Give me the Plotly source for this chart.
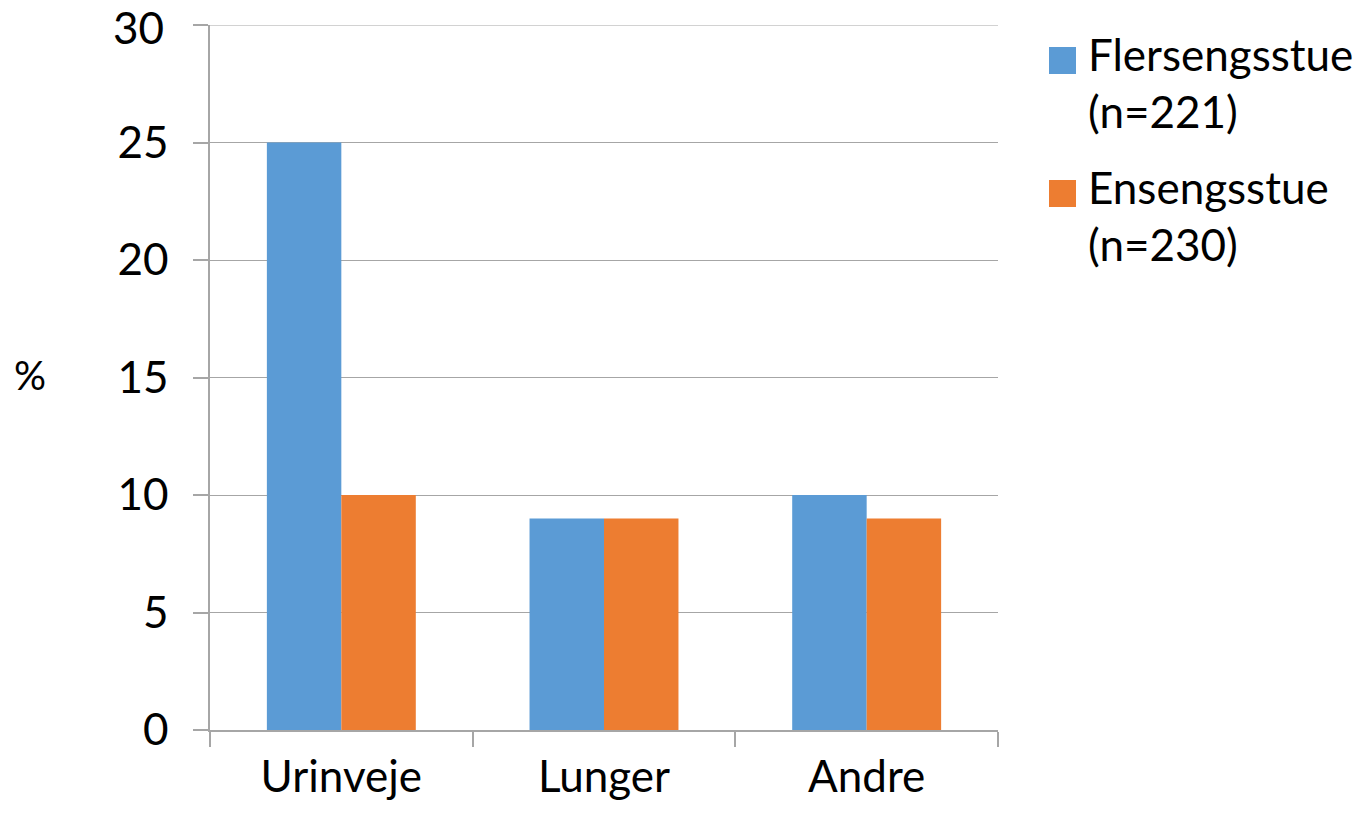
import plotly.graph_objects as go

categories = ["Urinveje", "Lunger", "Andre"]
series_names = ["Flersengsstue<br>(n=221)", "Ensengsstue<br>(n=230)"]
fler_values = [25, 9, 10]
ensen_values = [10, 9, 9]
colors = ["#5B9BD5", "#ED7D31"]
y_ticks = [0, 5, 10, 15, 20, 25, 30]
y_tick_labels = [str(v) for v in y_ticks]

FONT = "Lato"
FS = 44
W, H = 1361, 816
# plot area on screen: x 210..998, y 25..730 (page body margin removed below)
L, R, T, B = 210, W - 998, 25, H - 730
pw = W - L - R
ph = H - T - B

fig = go.Figure()
for name, vals, c in zip(series_names, [fler_values, ensen_values], colors):
    fig.add_trace(go.Bar(x=categories, y=vals, name=name, marker_color=c,
                         marker_line_width=0, showlegend=False))

def px_x(x):
    return (x - L) / pw

def px_y(y):
    return 1 - (y - T) / ph

GRID = "#A6A6A6"
shapes = [dict(type="line", xref="paper", yref="y", x0=0, x1=1, y0=y_ticks[-1], y1=y_ticks[-1],
               line=dict(color=GRID, width=1.2), layer="below")]
annotations = []
leg = [(colors[0], series_names[0], 47), (colors[1], series_names[1], 180)]
for c, name, top in leg:
    shapes.append(dict(type="rect", xref="paper", yref="paper",
                       x0=px_x(1049), x1=px_x(1076), y0=px_y(top + 27), y1=px_y(top),
                       fillcolor=c, line_width=0))
    annotations.append(dict(text=name, xref="paper", yref="paper",
                            x=px_x(1086), y=px_y(top - 21), xanchor="left", yanchor="top",
                            align="left", showarrow=False,
                            font=dict(family=FONT, size=FS, color="black")))
annotations.append(dict(text="%", xref="paper", yref="paper", x=px_x(30), y=px_y(375),
                        xanchor="center", yanchor="middle", showarrow=False,
                        font=dict(family=FONT, size=FS - 4, color="black")))
# top tick label (the axis hides it because it would reach past the top of the page)
annotations.append(dict(text=y_tick_labels[-1], xref="paper", yref="paper",
                        x=px_x(166), y=px_y(-1), xanchor="right", yanchor="top",
                        showarrow=False, font=dict(family=FONT, size=FS, color="black")))

fig.update_layout(
    width=W, height=H,
    margin=dict(l=L, r=R, t=T, b=B, pad=0),
    paper_bgcolor="white", plot_bgcolor="white",
    barmode="group", bargap=0.433, bargroupgap=0,
    font=dict(family=FONT, size=FS, color="black"),
    shapes=shapes, annotations=annotations,
    showlegend=False,
)
fig.update_xaxes(type="category", showline=True, linecolor=GRID, linewidth=1.5,
                 ticks="outside", tickson="boundaries", ticklen=15, tickcolor=GRID,
                 tickwidth=1.5, showgrid=False, ticklabelstandoff=7,
                 tickfont=dict(family=FONT, size=FS, color="black"))
fig.update_yaxes(range=[0, 30], tickvals=y_ticks, ticktext=y_tick_labels,
                 showline=True, linecolor=GRID,
                 linewidth=1.5, ticks="outside", ticklen=15, tickcolor=GRID,
                 tickwidth=1.5, showgrid=True, gridcolor=GRID, gridwidth=1.2,
                 zeroline=False, ticklabelstandoff=16,
                 tickfont=dict(family=FONT, size=FS, color="black"))

fig.write_html("out.html", config={"displayModeBar": False},
               post_script="document.body.style.margin='0';")
